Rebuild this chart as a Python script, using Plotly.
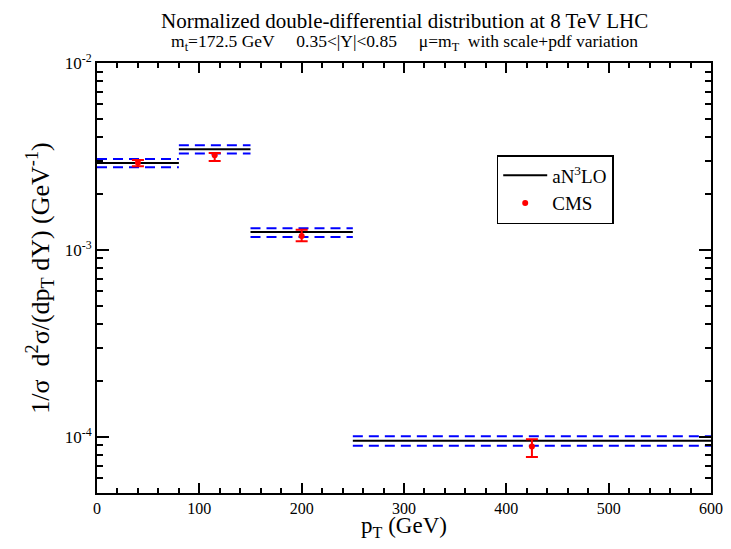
import plotly.graph_objects as go

# bin edges (GeV)
bin_lo = [0, 80, 150, 250]
bin_hi = [80, 150, 250, 600]
# aN3LO central, upper and lower (scale+pdf variation)
an3lo_central = [2.92e-3, 3.46e-3, 1.246e-3, 9.52e-5]
an3lo_upper = [3.06e-3, 3.63e-3, 1.304e-3, 1.005e-4]
an3lo_lower = [2.77e-3, 3.28e-3, 1.172e-3, 8.95e-5]
# CMS data
cms_pt = [40, 115, 200, 425]
cms_val = [2.93e-3, 3.21e-3, 1.186e-3, 8.87e-5]
cms_up = [3.03e-3, 3.30e-3, 1.28e-3, 9.7e-5]
cms_dn = [2.80e-3, 2.99e-3, 1.111e-3, 7.79e-5]

xtick_vals = [0, 100, 200, 300, 400, 500, 600]
ytick_vals = [1e-4, 1e-3, 1e-2]
ytick_text = ["10<sup>-4</sup>", "10<sup>-3</sup>", "10<sup>-2</sup>"]


def steps(vals):
    xs, ys = [], []
    for lo, hi, v in zip(bin_lo, bin_hi, vals):
        xs += [lo, hi, None]
        ys += [v, v, None]
    return xs, ys


FONT = "Liberation Serif"

fig = go.Figure()
for vals in (an3lo_upper, an3lo_lower):
    xs, ys = steps(vals)
    fig.add_trace(go.Scatter(x=xs, y=ys, mode="lines", showlegend=False,
                             line=dict(color="#0000ff", width=2, dash="10px,6px"),
                             hoverinfo="skip"))
xs, ys = steps(an3lo_central)
fig.add_trace(go.Scatter(x=xs, y=ys, mode="lines", name="aN<sup>3</sup>LO",
                         line=dict(color="black", width=2)))
fig.add_trace(go.Scatter(
    x=cms_pt, y=cms_val, mode="markers", name="CMS",
    marker=dict(color="red", size=6),
    error_y=dict(type="data", symmetric=False,
                 array=[u - v for u, v in zip(cms_up, cms_val)],
                 arrayminus=[v - d for v, d in zip(cms_val, cms_dn)],
                 color="red", thickness=2, width=6)))
# invisible trace to carry the mirrored (top/right) axes
fig.add_trace(go.Scatter(x=[bin_lo[0]], y=[an3lo_central[0]], xaxis="x2", yaxis="y2",
                         mode="markers", marker=dict(opacity=0), showlegend=False,
                         hoverinfo="skip"))

minor_y = [m * 10 ** e for e in (-5, -4, -3) for m in range(2, 10)]

tick_common = dict(showgrid=False, zeroline=False, showline=True, linecolor="black",
                   linewidth=2, ticks="inside", tickwidth=1.5, tickcolor="black")

fig.update_layout(
    width=723, height=533,
    margin=dict(l=89, r=20, t=55, b=48, autoexpand=False),
    paper_bgcolor="white", plot_bgcolor="white",
    font=dict(family=FONT, color="black", size=16),
    annotations=[
        dict(text="Normalized double-differential distribution at 8 TeV LHC",
             xref="paper", yref="paper", x=0.5, y=1, yshift=42, xanchor="center",
             yanchor="middle", showarrow=False, font=dict(size=21, family=FONT)),
        dict(text="m<sub>t</sub>=172.5 GeV     0.35<|Y|<0.85     μ=m<sub>T</sub>  with scale+pdf variation",
             xref="paper", yref="paper", x=0.5, y=1, yshift=21, xanchor="center",
             yanchor="middle", showarrow=False, font=dict(size=17.5, family=FONT)),
    ],
    legend=dict(x=0.651, y=0.786, xanchor="left", yanchor="top",
                bordercolor="black", borderwidth=1.5, bgcolor="white",
                font=dict(size=19, family=FONT), itemwidth=44,
                tracegroupgap=0),
    xaxis=dict(
        range=[0, 600], tickvals=xtick_vals, ticklen=10,
        tickfont=dict(size=16, family=FONT), ticklabeloverflow="allow",
        minor=dict(dtick=20, ticks="inside", ticklen=5, tickwidth=1.5,
                   tickcolor="black", showgrid=False),
        title=dict(text="p<sub>T</sub> (GeV)", font=dict(size=23, family=FONT), standoff=8),
        **tick_common),
    yaxis=dict(
        type="log", range=[-4.301, -2], tickvals=ytick_vals, ticktext=ytick_text,
        ticklen=12, tickfont=dict(size=17, family=FONT),
        minor=dict(tickvals=minor_y, ticks="inside", ticklen=6, tickwidth=1.5,
                   tickcolor="black", showgrid=False),
        title=dict(text="1/σ  d<sup>2</sup>σ/(dp<sub>T</sub> dY) (GeV<sup>-1</sup>)",
                   font=dict(size=26, family=FONT), standoff=8),
        **tick_common),
    xaxis2=dict(
        overlaying="x", side="top", range=[0, 600], tickvals=xtick_vals, ticklen=10,
        showticklabels=False,
        minor=dict(dtick=20, ticks="inside", ticklen=5, tickwidth=1.5,
                   tickcolor="black", showgrid=False),
        **tick_common),
    yaxis2=dict(
        overlaying="y", side="right", type="log", range=[-4.301, -2],
        tickvals=ytick_vals, ticklen=12, showticklabels=False,
        minor=dict(tickvals=minor_y, ticks="inside", ticklen=6, tickwidth=1.5,
                   tickcolor="black", showgrid=False),
        **tick_common),
)
fig.write_html("out.html")
